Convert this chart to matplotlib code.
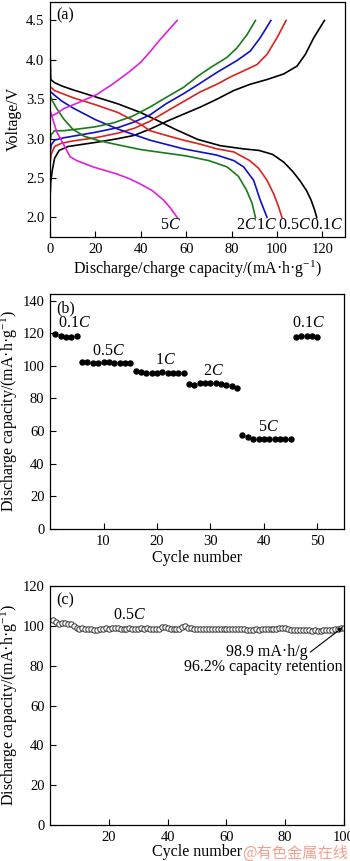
import numpy as np
import matplotlib
matplotlib.use("Agg")
import matplotlib.pyplot as plt

# Rate capability and cycling of the cathode: (a) charge/discharge curves,
# (b) rate test, (c) 100 cycles at 0.5C.

plt.rcParams['font.family'] = ['Liberation Serif', 'DejaVu Serif']
plt.rcParams['font.size'] = 11
plt.rcParams['mathtext.fontset'] = 'custom'
plt.rcParams['mathtext.rm'] = 'Liberation Serif'
plt.rcParams['mathtext.it'] = 'Liberation Serif:italic'

# ---------------------------------------------------------------- (a) curves
rates = ["0.1", "0.5", "1", "2", "5"]
colors = ["black", "#e0201c", "#1010c8", "#1a7a1a", "#e020e0"]

dis_x = [
    [0, 0.3, 2, 5, 10, 20, 30, 40, 48, 55, 65, 75, 85, 92, 98, 103, 107, 110, 113, 115, 116.5, 117.5],
    [0, 2, 10, 20, 30, 40, 44, 50, 58.8, 66, 73.5, 81, 88, 92, 95.6, 98.5, 100.5, 102.2],
    [0, 2, 5, 10, 20, 30, 44, 58.8, 73.5, 81, 85.3, 89.7, 92.6, 95.6],
    [0, 1, 3, 6, 10, 15, 22, 30, 40, 50, 60, 70, 78, 83, 86.5, 89, 90.5],
    [0, 1.5, 3, 5, 6.6, 8.8, 11.8, 19, 29.5, 35, 40, 45, 50, 53, 56],
]
dis_y = [
    [4.15, 3.75, 3.71, 3.67, 3.62, 3.53, 3.44, 3.33, 3.22, 3.12, 2.99, 2.91, 2.87, 2.85, 2.80, 2.70, 2.58, 2.47, 2.34, 2.22, 2.10, 2.0],
    [3.66, 3.61, 3.52, 3.43, 3.33, 3.18, 3.10, 3.05, 2.98, 2.93, 2.87, 2.83, 2.72, 2.62, 2.47, 2.30, 2.15, 2.0],
    [3.60, 3.55, 3.48, 3.39, 3.24, 3.12, 2.98, 2.87, 2.79, 2.72, 2.64, 2.47, 2.22, 2.0],
    [3.55, 3.48, 3.38, 3.25, 3.12, 3.03, 2.97, 2.92, 2.86, 2.82, 2.78, 2.72, 2.64, 2.52, 2.35, 2.18, 2.0],
    [3.36, 3.22, 3.08, 2.98, 2.89, 2.77, 2.72, 2.64, 2.55, 2.49, 2.42, 2.34, 2.22, 2.12, 2.0],
]
chg_x = [
    [0, 0.3, 1, 2, 4, 8, 15, 22, 30, 37, 44, 51.5, 58.8, 66.2, 73.5, 80.9, 88.2, 95.6, 102.9, 108.8, 112.5, 116.2, 120.9],
    [0, 0.5, 2, 5, 10, 20, 30, 37, 44, 51, 58.8, 66, 73.5, 80, 85.3, 91.2, 95.6, 100, 104],
    [0, 0.5, 2, 6, 12, 20, 30, 37, 44, 51, 58.8, 66, 73.5, 82.3, 88.2, 92.6, 97.3],
    [0, 0.5, 2, 6, 12, 20, 28, 36, 44, 51, 58.8, 65, 70.6, 77.9, 82.3, 86.8, 90.5],
    [0, 3, 6, 12, 20.6, 28, 35, 40, 44, 48, 52, 56],
]
chg_y = [
    [2.25, 2.45, 2.60, 2.75, 2.85, 2.90, 2.93, 2.96, 3.00, 3.04, 3.12, 3.22, 3.31, 3.40, 3.50, 3.61, 3.69, 3.75, 3.82, 3.92, 4.07, 4.28, 4.5],
    [2.68, 2.80, 2.90, 2.94, 2.97, 3.01, 3.07, 3.13, 3.22, 3.34, 3.47, 3.59, 3.69, 3.79, 3.86, 3.94, 4.07, 4.28, 4.5],
    [2.80, 2.92, 2.98, 3.01, 3.04, 3.08, 3.14, 3.21, 3.30, 3.44, 3.57, 3.70, 3.84, 3.99, 4.11, 4.28, 4.5],
    [2.95, 3.05, 3.10, 3.10, 3.12, 3.15, 3.20, 3.28, 3.40, 3.52, 3.65, 3.79, 3.90, 4.03, 4.15, 4.32, 4.5],
    [3.28, 3.32, 3.38, 3.45, 3.56, 3.70, 3.85, 3.97, 4.10, 4.24, 4.37, 4.5],
]
label_x = [121.8, 107.8, 95.5, 86.5, 53]

# ---------------------------------------------------------------- (b) rate test
cycles_b = np.arange(1, 51)
cap_b = [119.5, 118.2, 117.4, 117.4, 118.4,
         102.5, 102.2, 102.0, 102.0, 102.1, 102.1, 102.0, 101.8, 101.8, 101.5,
         96.6, 96.0, 95.6, 95.5, 95.6, 96.0, 95.9, 95.8, 95.6, 95.5,
         88.6, 88.5, 89.5, 89.6, 89.5, 89.2, 89.0, 88.4, 87.5, 86.6,
         57.5, 56.4, 55.4, 55.0, 55.0, 55.0, 55.0, 55.1, 55.1, 55.1,
         117.5, 118.1, 118.2, 118.0, 117.4]
rate_labels = ["0.1", "0.5", "1", "2", "5", "0.1"]
rate_label_x = [4.6, 11.0, 21.5, 30.5, 40.8, 48.3]
rate_label_y = [126, 109, 103.3, 96.6, 62.3, 126]

# ---------------------------------------------------------------- (c) cycling
cycles_c = np.arange(1, 101)
cap_c = [102.8, 101.8, 101.0, 101.5, 101.2, 101.0, 100.8, 99.8, 98.8, 98.3,
         98.8, 98.6, 98.3, 98.2, 98.0, 98.1, 98.3, 98.6, 98.7, 98.6,
         98.7, 98.7, 98.8, 98.6, 98.2, 98.6, 98.7, 98.6, 98.5, 98.6,
         98.7, 98.6, 99.0, 98.4, 98.2, 98.3, 98.5, 99.2, 99.6, 99.0,
         98.6, 98.4, 98.3, 98.5, 99.3, 99.8, 99.0, 98.7, 98.6, 98.5,
         98.4, 98.3, 98.4, 98.3, 98.2, 98.4, 98.5, 98.5, 98.4, 98.6,
         98.5, 98.4, 98.3, 98.2, 98.3, 98.2, 98.1, 98.0, 98.0, 98.2,
         98.1, 98.2, 98.2, 98.3, 98.3, 98.2, 98.4, 98.9, 99.1, 98.8,
         98.3, 97.9, 97.8, 97.8, 97.7, 97.8, 97.7, 97.8, 97.6, 97.7,
         97.6, 97.5, 97.7, 97.8, 97.9, 98.1, 98.3, 98.5, 98.7, 98.9]

cap_label = "Discharge capacity/(mA·h·g$^{-1}$)"
LBL = 11.5
TXT = 11.5

fig = plt.figure(figsize=(3.5, 8.61), dpi=100)
ax_a = fig.add_axes([0.143, 0.7247, 0.843, 0.2735])
ax_b = fig.add_axes([0.143, 0.3856, 0.840, 0.2729])
ax_c = fig.add_axes([0.143, 0.0418, 0.840, 0.2776])

for ax in (ax_a, ax_b, ax_c):
    ax.tick_params(direction="in", length=4, width=0.8, labelsize=10.5, pad=4,
                   top=False, right=False)
    for sp in ax.spines.values():
        sp.set_linewidth(0.9)

# (a)
for i in range(len(rates)):
    ax_a.plot(dis_x[i], dis_y[i], color=colors[i], lw=1.2)
    ax_a.plot(chg_x[i], chg_y[i], color=colors[i], lw=1.2)
    ax_a.text(label_x[i], 1.9, rates[i] + "$C$", ha="center", va="center", fontsize=TXT)
ax_a.set_xlim(0, 130)
ax_a.set_ylim(1.75, 4.74)
ax_a.set_xticks([0, 20, 40, 60, 80, 100, 120])
ax_a.set_yticks([2.0, 2.5, 3.0, 3.5, 4.0, 4.5])
ax_a.set_yticklabels(["2.0", "2.5", "3.0", "3.5", "4.0", "4.5"])
ax_a.set_xlabel("Discharge/charge capacity/(mA·h·g$^{-1}$)", labelpad=2, fontsize=LBL)
ax_a.set_ylabel("Voltage/V", labelpad=3, fontsize=LBL)
ax_a.text(0.02, 0.975, "(a)", transform=ax_a.transAxes, ha="left", va="top", fontsize=TXT)

# (b)
ax_b.plot(cycles_b, cap_b, "o", color="black", ms=3.6)
for t, x, y in zip(rate_labels, rate_label_x, rate_label_y):
    ax_b.text(x, y, t + "$C$", ha="center", va="center", fontsize=TXT)
ax_b.set_xlim(0, 55)
ax_b.set_ylim(0, 144)
ax_b.set_xticks([10, 20, 30, 40, 50])
ax_b.set_yticks(np.arange(0, 141, 20))
ax_b.set_xlabel("Cycle number", labelpad=2, fontsize=LBL)
ax_b.set_ylabel(cap_label, labelpad=2, fontsize=LBL)
ax_b.text(0.02, 0.975, "(b)", transform=ax_b.transAxes, ha="left", va="top", fontsize=TXT)

# (c)
ax_c.plot(cycles_c, cap_c, "o", mfc="white", mec="#333333", mew=0.7, ms=3.9)
ax_c.text(27, 105.5, "0.5$C$", ha="center", va="center", fontsize=TXT)
ax_c.annotate("", xy=(99.6, 99.3), xytext=(88.5, 86.8),
              arrowprops=dict(arrowstyle="-|>", color="black", lw=0.8,
                              mutation_scale=7, shrinkA=0, shrinkB=0))
ax_c.text(87.5, 87, "98.9 mA·h/g", ha="right", va="center", fontsize=TXT)
ax_c.text(99.5, 79.5, "96.2% capacity retention", ha="right", va="center", fontsize=TXT)
ax_c.set_xlim(0, 100)
ax_c.set_ylim(0, 120)
ax_c.set_xticks([20, 40, 60, 80, 100])
ax_c.set_yticks(np.arange(0, 121, 20))
ax_c.set_xlabel("Cycle number", labelpad=0, fontsize=LBL)
ax_c.set_ylabel(cap_label, labelpad=2, fontsize=LBL)
ax_c.text(0.02, 0.975, "(c)", transform=ax_c.transAxes, ha="left", va="top", fontsize=TXT)

fig.text(0.995, 0.0095, "@有色金属在线", ha="right", va="center", fontsize=11,
         color="#f2a090", family=["Noto Sans CJK SC", "DejaVu Sans"])

fig.savefig("out.png", dpi=100)
